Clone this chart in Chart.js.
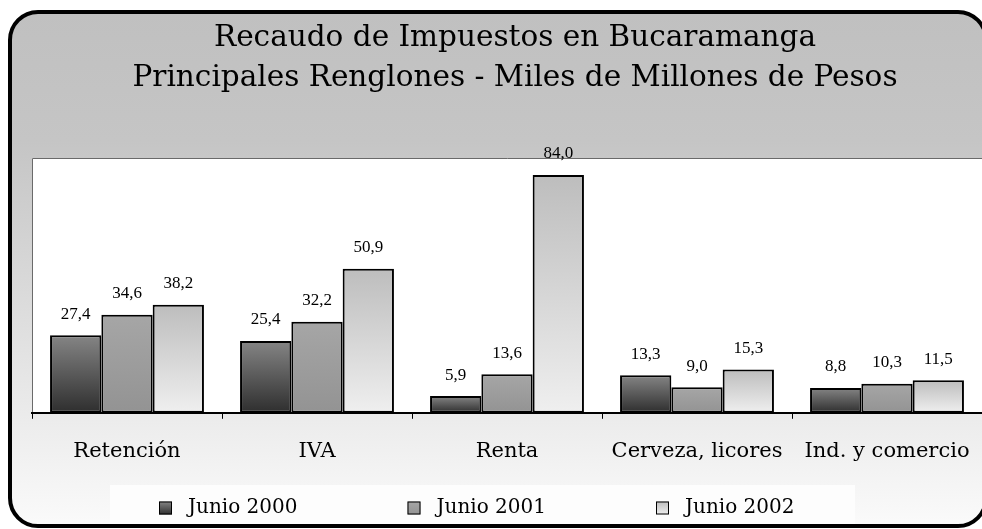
<!DOCTYPE html>
<html><head><meta charset="utf-8">
<script src="https://cdn.jsdelivr.net/npm/chart.js@4.4.0/dist/chart.umd.min.js"></script>
<style>html,body{margin:0;padding:0;background:#fff;}#wrap{width:982px;height:529px;position:relative;}</style>
</head><body><div id="wrap"><canvas id="c"></canvas></div>
<script>
const titleLines = ['Recaudo de Impuestos en Bucaramanga', 'Principales Renglones - Miles de Millones de Pesos'];
const categories = ['Retención', 'IVA', 'Renta', 'Cerveza, licores', 'Ind. y comercio'];
const seriesNames = ['Junio 2000', 'Junio 2001', 'Junio 2002'];
const junio2000 = [27.4, 25.4, 5.9, 13.3, 8.8];
const junio2001 = [34.6, 32.2, 13.6, 9.0, 10.3];
const junio2002 = [38.2, 50.9, 84.0, 15.3, 11.5];
const yMax = 90;

const shades = [['#858585', '#2e2e2e'], ['#a6a6a6', '#939393'], ['#bdbdbd', '#efefef']];

function barFill(stops) {
  return (ctx) => {
    const ch = ctx.chart, ys = ch.scales && ch.scales.y;
    if (!ch.chartArea || !ys || ctx.raw == null) return stops[0];
    const top = ys.getPixelForValue(ctx.raw), bot = ys.getPixelForValue(0);
    if (!isFinite(top) || !isFinite(bot) || top === bot) return stops[0];
    const g = ch.ctx.createLinearGradient(0, top, 0, bot);
    g.addColorStop(0, stops[0]); g.addColorStop(1, stops[1]);
    return g;
  };
}

const frame = {
  id: 'frame',
  afterLayout(chart) {
    // title block is centred slightly right of the canvas centre in the original
    if (chart.titleBlock) { chart.titleBlock.left += 16; }
  },
  beforeDraw(chart) {
    const c = chart.ctx, W = chart.width, H = chart.height;
    c.save();
    const g = c.createLinearGradient(0, 12, 0, H);
    g.addColorStop(0, '#c0c0c0'); g.addColorStop(0.25, '#c5c5c5'); g.addColorStop(1, '#fbfbfb');
    c.beginPath(); c.roundRect(10, 12, W - 6, H - 15, 28);
    c.fillStyle = g; c.fill();
    c.fillStyle = '#fdfdfd'; c.fillRect(110, 485, 745, 41);
    c.lineWidth = 4; c.strokeStyle = '#000'; c.stroke();
    const a = chart.chartArea;
    c.fillStyle = '#fff'; c.fillRect(a.left, a.top, a.right - a.left, a.bottom - a.top);
    c.strokeStyle = '#6a6a6a'; c.lineWidth = 1;
    c.beginPath(); c.moveTo(a.left + 0.5, a.bottom); c.lineTo(a.left + 0.5, a.top + 0.5); c.lineTo(a.right, a.top + 0.5); c.stroke();
    c.restore();
  }
};

const valueLabels = {
  id: 'valueLabels',
  afterDatasetsDraw(chart) {
    const c = chart.ctx;
    c.save();
    c.font = '17px "Liberation Serif"'; c.fillStyle = '#000'; c.textAlign = 'center'; c.textBaseline = 'middle';
    chart.data.datasets.forEach((ds, i) => {
      chart.getDatasetMeta(i).data.forEach((el, j) => {
        c.fillText(ds.data[j].toFixed(1).replace('.', ','), el.x, el.y - 21);
      });
    });
    c.restore();
  }
};

const legendRow = {
  id: 'legendRow',
  afterDraw(chart) {
    const c = chart.ctx, cx = chart.width / 2, y = 508, spacing = 248.5, box = 13;
    c.save();
    c.font = '20px "DejaVu Serif"'; c.textBaseline = 'middle'; c.textAlign = 'left';
    chart.data.datasets.forEach((ds, i) => {
      const x = cx - 332 + i * spacing;
      const st = shades[i];
      const g = c.createLinearGradient(0, y - box / 2, 0, y + box / 2);
      g.addColorStop(0, st[0]); g.addColorStop(1, st[1]);
      c.fillStyle = g; c.fillRect(x, y - box / 2, box, box);
      c.strokeStyle = '#000'; c.lineWidth = 1; c.strokeRect(x + 0.5, y - box / 2 + 0.5, box - 1, box - 1);
      c.fillStyle = '#000'; c.fillText(ds.label, x + box + 16, y);
    });
    c.restore();
  }
};

const seriesValues = [junio2000, junio2001, junio2002];
new Chart(document.getElementById('c'), {
  type: 'bar',
  data: {
    labels: categories,
    datasets: seriesNames.map((name, i) => ({
      label: name,
      data: seriesValues[i],
      backgroundColor: barFill(shades[i]),
      borderColor: '#000',
      borderWidth: 2,
      borderSkipped: false,
      categoryPercentage: 0.81,
      barPercentage: 1.0
    }))
  },
  options: {
    responsive: true,
    maintainAspectRatio: false,
    animation: false,
    events: [],
    layout: { padding: { top: 18, left: 32, right: 0, bottom: 45 } },
    plugins: {
      legend: { display: false },
      tooltip: { enabled: false },
      title: {
        display: true,
        text: titleLines,
        color: '#000',
        font: { family: 'DejaVu Serif', size: 29.5, weight: 'normal', lineHeight: 1.356 },
        padding: { top: 0, bottom: 60 }
      }
    },
    scales: {
      x: {
        afterFit(scale) { scale.paddingLeft = 0; scale.paddingRight = 0; },
        grid: { display: true, offset: true, drawOnChartArea: false, drawTicks: true, tickLength: 6, color: '#000', lineWidth: 1 },
        border: { display: true, color: '#000', width: 2 },
        ticks: { color: '#000', font: { family: 'DejaVu Serif', size: 21 }, padding: 20, maxRotation: 0, autoSkip: false }
      },
      y: { display: false, min: 0, max: yMax }
    }
  },
  plugins: [frame, valueLabels, legendRow]
});
</script></body></html>
